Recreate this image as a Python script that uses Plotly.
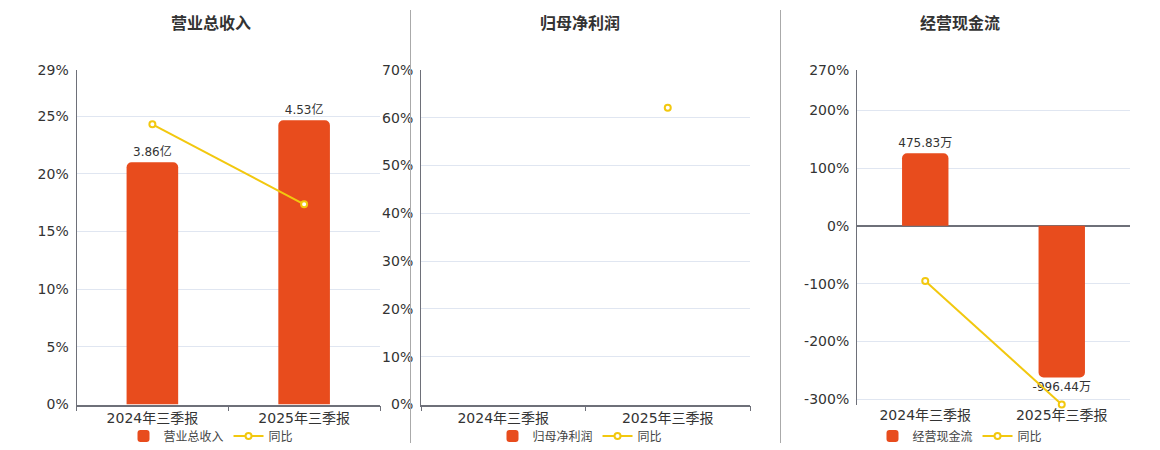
import plotly.graph_objects as go

# ---------------- data ----------------
categories = ["2024年三季报", "2025年三季报"]

titles = ["营业总收入", "归母净利润", "经营现金流"]

revenue = [3.86, 4.53]            # 亿
revenue_yoy = [24.29, 17.36]      # %

net_profit = [None, None]         # 亿 (no data shown)
net_profit_yoy = [None, 62.1]     # %

cashflow = [475.83, -996.44]      # 万
cashflow_yoy = [-95.3, -309.4]    # %

p1_tickvals = [0, 5, 10, 15, 20, 25, 29]
p1_ticktext = ["0%", "5%", "10%", "15%", "20%", "25%", "29%"]
p2_tickvals = [0, 10, 20, 30, 40, 50, 60, 70]
p2_ticktext = ["0%", "10%", "20%", "30%", "40%", "50%", "60%", "70%"]
p3_tickvals = [-309.4, -300, -200, -100, 0, 100, 200, 270]
p3_ticktext = ["", "-300%", "-200%", "-100%", "0%", "100%", "200%", "270%"]

# axis ranges
p1_pct_range = [0, 29]
p1_bar_range = [0, 5.33]
p2_pct_range = [0, 70]
p2_bar_range = [0, 1]
p3_pct_range = [-309.4, 270]
p3_bar_range = [-1174, 1023]

# ---------------- style ----------------
BAR = "#E84C1D"
LINE = "#F2C80F"
GRID = "#E0E6F1"
AXIS = "#6E7079"
TXT = "#333333"
FONT = "DejaVu Sans, Noto Sans CJK SC, sans-serif"
CJK = "Noto Sans CJK SC, DejaVu Sans, sans-serif"

W, H = 1160, 450
xdom = [[76.5 / W, 380 / W], [421 / W, 750 / W], [857 / W, 1130 / W]]
ydom = [1 - 404.5 / H, 1 - 70 / H]
center_x = [211 / W, 580 / W, 960 / W]

fig = go.Figure()

panels = [
    (revenue, revenue_yoy, "亿", p1_bar_range, p1_pct_range, p1_tickvals, p1_ticktext),
    (net_profit, net_profit_yoy, "亿", p2_bar_range, p2_pct_range, p2_tickvals, p2_ticktext),
    (cashflow, cashflow_yoy, "万", p3_bar_range, p3_pct_range, p3_tickvals, p3_ticktext),
]

layout = {}
for i, (vals, yoy, unit, brange, prange, tv, tt) in enumerate(panels):
    n = i + 1
    xa = "x" if n == 1 else f"x{n}"
    yb_id = 2 * n - 1
    yp_id = 2 * n
    yb = "y" if yb_id == 1 else f"y{yb_id}"
    yp = f"y{yp_id}"
    leg = "legend" if n == 1 else f"legend{n}"
    labels = [("" if v is None else f"{v:.2f}{unit}") for v in vals]

    fig.add_trace(go.Bar(
        x=categories, y=vals, name=titles[i], xaxis=xa, yaxis=yb,
        marker=dict(color=BAR, cornerradius=5, line=dict(width=0)),
        width=0.34, text=labels, textposition="outside",
        constraintext="none",
        textfont=dict(family=FONT, size=12, color=TXT),
        cliponaxis=False, legend=leg, showlegend=True,
    ))
    fig.add_trace(go.Scatter(
        x=categories, y=yoy, name="同比", xaxis=xa, yaxis=yp,
        mode="lines+markers",
        line=dict(color=LINE, width=2),
        marker=dict(symbol="circle", size=6, color="white",
                    line=dict(color=LINE, width=2)),
        legend=leg, showlegend=True, cliponaxis=False,
    ))

    xkey = "xaxis" if n == 1 else f"xaxis{n}"
    ybkey = "yaxis" if yb_id == 1 else f"yaxis{yb_id}"
    ypkey = f"yaxis{yp_id}"

    is_p3 = (n == 3)
    layout[xkey] = dict(
        domain=xdom[i], anchor=yb, type="category",
        categoryorder="array", categoryarray=categories,
        range=[-0.5, 1.5], showgrid=False, zeroline=False,
        showline=not is_p3, linecolor=AXIS, linewidth=1.5,
        ticks="" if is_p3 else "outside", tickson="boundaries",
        ticklen=5, tickcolor=AXIS,
        tickfont=dict(family=FONT, size=14, color=TXT),
        fixedrange=True, automargin=False,
    )
    layout[ybkey] = dict(
        domain=ydom, anchor=xa, range=brange, visible=False,
        showgrid=False, zeroline=False, fixedrange=True, automargin=False,
    )
    layout[ypkey] = dict(
        domain=ydom, anchor=xa, overlaying=yb, side="left",
        range=prange, tickmode="array", tickvals=tv, ticktext=tt,
        showgrid=True, gridcolor=GRID, gridwidth=1,
        zeroline=is_p3, zerolinecolor=AXIS, zerolinewidth=1.5,
        showline=True, linecolor=AXIS, linewidth=1,
        ticks="", ticklabelstandoff=4,
        tickfont=dict(family=FONT, size=14, color=TXT),
        fixedrange=True, automargin=False,
    )
    layout[leg] = dict(
        orientation="h", x=center_x[i], xanchor="center", y=1 - 436 / H,
        yanchor="middle", bgcolor="rgba(0,0,0,0)",
        font=dict(family=CJK, size=12, color="#444444"),
        itemwidth=30, tracegroupgap=0,
    )

# zero-line axis with boundary ticks for the cash-flow panel
zero_pos = ydom[0] + (0 - p3_pct_range[0]) / (p3_pct_range[1] - p3_pct_range[0]) * (ydom[1] - ydom[0])
layout["xaxis4"] = dict(
    overlaying="x3", anchor="free", position=zero_pos, side="bottom",
    type="category", categoryorder="array", categoryarray=categories,
    range=[-0.5, 1.5], showgrid=False, zeroline=False,
    showline=True, linecolor=AXIS, linewidth=1.5,
    ticks="outside", tickson="boundaries", ticklen=5, tickcolor=AXIS,
    showticklabels=False, fixedrange=True, automargin=False,
)

annotations = [
    dict(text=f"<b>{t}</b>", x=center_x[k], y=1 - 22 / H, xref="paper", yref="paper",
         xanchor="center", yanchor="middle", showarrow=False,
         font=dict(family=CJK, size=16, color=TXT))
    for k, t in enumerate(titles)
]

shapes = [
    dict(type="line", xref="paper", yref="paper", x0=x, x1=x,
         y0=1 - 10 / H, y1=1 - 443 / H, line=dict(color="#AAAAAA", width=1))
    for x in (410.5 / W, 780.5 / W)
]

fig.update_layout(
    width=W, height=H,
    margin=dict(l=0, r=0, t=0, b=0, pad=0, autoexpand=False),
    paper_bgcolor="white", plot_bgcolor="white",
    barmode="overlay",
    annotations=annotations, shapes=shapes,
    font=dict(family=FONT, color=TXT),
    hovermode=False,
    **layout,
)

page_fix = (
    "var d=document.querySelector('.plotly-graph-div');"
    "if(d){d.style.position='fixed';d.style.top='0px';d.style.left='0px';}"
    "document.documentElement.style.margin='0';"
    "document.documentElement.style.overflow='hidden';"
    "document.body.style.margin='0';"
    "document.body.style.padding='0';"
    "document.body.style.overflow='hidden';"
)

fig.write_html(
    "out.html",
    config={"displayModeBar": False},
    post_script=page_fix,
)
